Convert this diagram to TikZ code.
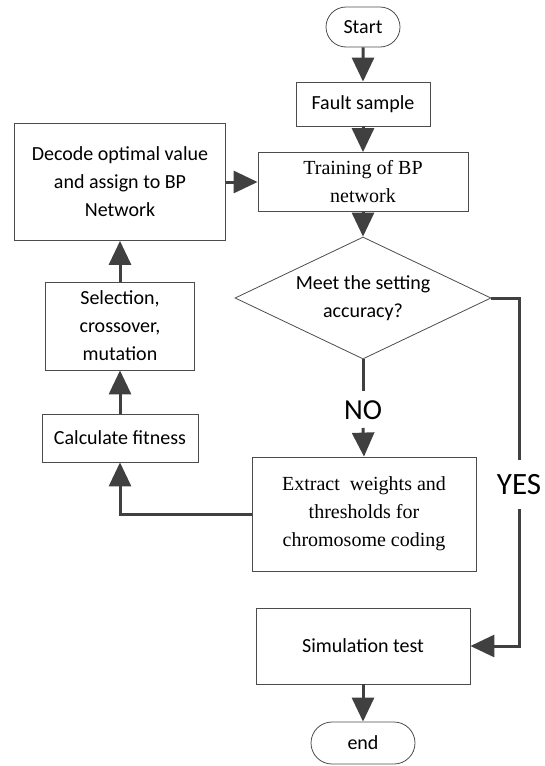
\documentclass[tikz,border=0pt]{standalone}
\usepackage{fontspec}
\setmainfont{Liberation Serif}
\newfontfamily\carlito{Carlito}
\usetikzlibrary{arrows,arrows.meta,shapes,shapes.misc,shapes.geometric}
\tikzstyle{block}=[rectangle, draw=black!70, line width=0.8pt
,align=center, inner sep=2pt
,font=\carlito\fontsize{20}{28}\selectfont
]
\tikzstyle{serifblock}=[block, font=\fontsize{20}{28}\selectfont]
\tikzstyle{terminal}=[rounded rectangle, draw=black!70, line width=0.8pt
,inner sep=2pt, font=\carlito\fontsize{20}{24}\selectfont
]
\tikzstyle{decision}=[diamond, draw=black!70, line width=0.8pt
,align=center, inner sep=0pt, aspect=2
,font=\carlito\fontsize{20}{28}\selectfont
]
\tikzstyle{answer}=[inner sep=0pt, font=\carlito\fontsize{29}{30}\selectfont]
\tikzstyle{flow} = [draw=black!75, line width=3pt, -{Triangle[width=22pt,length=24pt]}]
\tikzstyle{link} = [draw=black!75, line width=3pt, -]

\begin{document}
\begin{tikzpicture}[x=1pt,y=-1pt]
    \useasboundingbox (0,0) rectangle (545,766);
    % Main column
    \node[terminal, minimum width=78pt, minimum height=40pt] (start) at (363,27) {Start};
    \node[block, minimum width=134pt, minimum height=44pt] (fault) at (363,104) {Fault sample};
    \node[serifblock, minimum width=210pt, minimum height=59pt] (train) at (363,182) {Training of BP\\network};
    \node[decision, minimum width=256pt, minimum height=122pt] (meet) at (363,298) {Meet the setting\\accuracy?};
    \node[serifblock, minimum width=224pt, minimum height=114pt] (extract) at (364,514) {Extract~ weights and\\thresholds for\\chromosome coding};
    \node[block, minimum width=214pt, minimum height=76pt] (sim) at (363,646) {Simulation test};
    \node[terminal, minimum width=108pt, minimum height=42pt] (end) at (363,743) {end};

    % Genetic loop
    \node[block, minimum width=211pt, minimum height=117pt] (decode) at (120,182) {Decode optimal value\\and assign to BP\\Network};
    \node[block, minimum width=149pt, minimum height=88pt] (select) at (120,326) {Selection,\\crossover,\\mutation};
    \node[block, minimum width=156pt, minimum height=48pt] (fitness) at (120,438) {Calculate fitness};

    % Branch labels
    \node[answer] (no) at (363,410) {NO};
    \coordinate (noA) at (363,391);
    \coordinate (noB) at (363,428);
    \node[answer, font=\carlito\fontsize{31}{32}\selectfont] (yes) at (519,485) {YES};
    \coordinate (yesA) at (519,460);
    \coordinate (yesB) at (519,509);

    % Connectors
    \foreach \source/ \dest in {start/fault, fault/train, train/meet, sim/end, fitness/select, select/decode}
        \path[flow] (\source) -- (\dest);
    \path[flow] (decode) -- (train);
    \path[link] (meet.south) -- (noA);
    \path[flow] (noB) -- (extract.north);
    \path[link] (meet.east) -| (yesA);
    \path[flow] (yesB) |- (sim.east);
    \path[flow] (extract.west) -| (fitness.south);
\end{tikzpicture}
\end{document}
